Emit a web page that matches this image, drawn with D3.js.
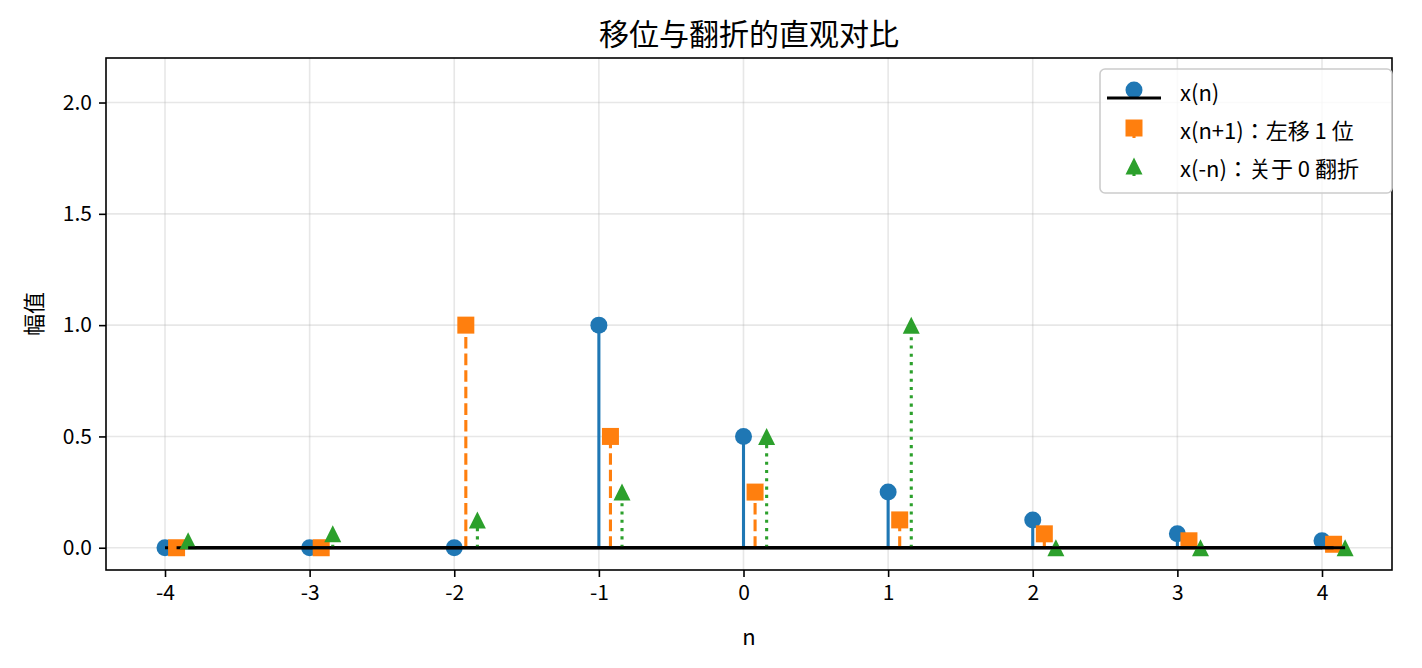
<!DOCTYPE html>
<html>
<head>
<meta charset="utf-8">
<script src="https://cdn.jsdelivr.net/npm/d3@7"></script>
<style>
  body { margin: 0; background: #fff; }
  svg text { font-family: "Noto Sans CJK JP", "Noto Sans CJK SC", sans-serif; fill: #000; }
</style>
</head>
<body>
<svg id="chart" width="1422" height="668"></svg>
<script>
// sample index n and the three sequences
const nValues = [-4, -3, -2, -1, 0, 1, 2, 3, 4];
const xOrig = [0, 0, 0, 1, 0.5, 0.25, 0.125, 0.0625, 0.03125];
const xShift = [0, 0, 1, 0.5, 0.25, 0.125, 0.0625, 0.03125, 0.015625];
const xFlip = [0.03125, 0.0625, 0.125, 0.25, 0.5, 1, 0, 0, 0];
const xTicks = [-4, -3, -2, -1, 0, 1, 2, 3, 4];
const yTicks = [0, 0.5, 1.0, 1.5, 2.0];
const seriesNames = ["x(n)", "x(n+1)：左移 1 位", "x(-n)：关于 0 翻折"];

const margin = { top: 58, right: 30, bottom: 98, left: 106 };
const W = 1422, H = 668;
const iw = W - margin.left - margin.right;
const ih = H - margin.top - margin.bottom;

const svg = d3.select("#chart");
const g = svg.append("g").attr("transform", `translate(${margin.left},${margin.top})`);

const x = d3.scaleLinear().domain([-4.408, 4.484]).range([0, iw]);
const y = d3.scaleLinear().domain([-0.1, 2.2]).range([ih, 0]);

// grid
g.append("g").selectAll("line").data(xTicks).join("line")
  .attr("x1", d => x(d)).attr("x2", d => x(d)).attr("y1", 0).attr("y2", ih)
  .attr("stroke", "#b0b0b0").attr("stroke-opacity", 0.3).attr("stroke-width", 1.6);
g.append("g").selectAll("line").data(yTicks).join("line")
  .attr("y1", d => y(d)).attr("y2", d => y(d)).attr("x1", 0).attr("x2", iw)
  .attr("stroke", "#b0b0b0").attr("stroke-opacity", 0.3).attr("stroke-width", 1.6);

const series = [
  { vals: xOrig, off: 0, color: "#1f77b4", dash: null, marker: "circle" },
  { vals: xShift, off: 0.08, color: "#ff7f0e", dash: "11.6,5", marker: "square" },
  { vals: xFlip, off: 0.16, color: "#2ca02c", dash: "3.1,5.2", marker: "triangle" }
];

const symbols = {
  circle: d3.symbol().type(d3.symbolCircle).size(Math.PI * 8.5 * 8.5),
  square: d3.symbol().type(d3.symbolSquare).size(17 * 17),
  triangle: () => "M0,-8.5L8.5,8.5L-8.5,8.5Z"
};

series.forEach((s, i) => {
  const pts = nValues.map((n, k) => ({ n: n + s.off, v: s.vals[k] }));
  g.append("g").selectAll("line").data(pts).join("line")
    .attr("x1", d => x(d.n)).attr("x2", d => x(d.n))
    .attr("y1", y(0)).attr("y2", d => y(d.v))
    .attr("stroke", s.color).attr("stroke-width", 3.1)
    .attr("stroke-dasharray", s.dash);
  g.append("g").selectAll("path").data(pts).join("path")
    .attr("transform", d => `translate(${x(d.n)},${y(d.v)})`)
    .attr("d", symbols[s.marker]())
    .attr("fill", s.color);
  // baseline
  g.append("line")
    .attr("x1", x(d3.min(pts, d => d.n))).attr("x2", x(d3.max(pts, d => d.n)))
    .attr("y1", y(0)).attr("y2", y(0))
    .attr("stroke", "#000").attr("stroke-width", 3);
});

// axes
const xAxis = g.append("g").attr("transform", `translate(0,${ih})`)
  .call(d3.axisBottom(x).tickValues(xTicks).tickFormat(d => String(d)).tickSize(7).tickPadding(8));
const yAxis = g.append("g")
  .call(d3.axisLeft(y).tickValues(yTicks).tickFormat(d3.format(".1f")).tickSize(7).tickPadding(7));
[xAxis, yAxis].forEach(a => {
  a.select(".domain").remove();
  a.selectAll("line").attr("stroke", "#000").attr("stroke-width", 1.6);
  a.selectAll("text").attr("font-size", 21).style("font-family", '"Noto Sans CJK JP", sans-serif');
});

g.append("rect").attr("width", iw).attr("height", ih)
  .attr("fill", "none").attr("stroke", "#000").attr("stroke-width", 1.6);

// labels
svg.append("text").attr("x", margin.left + iw / 2).attr("y", 32)
  .attr("text-anchor", "middle").attr("dominant-baseline", "central")
  .attr("font-size", 30).text("移位与翻折的直观对比");
svg.append("text").attr("x", margin.left + iw / 2).attr("y", 635)
  .attr("text-anchor", "middle").attr("dominant-baseline", "central")
  .attr("font-size", 22).text("n");
svg.append("text").attr("transform", `translate(32,${margin.top + ih / 2}) rotate(-90)`)
  .attr("text-anchor", "middle").attr("dominant-baseline", "central")
  .attr("font-size", 22).text("幅值");

// legend
const lg = svg.append("g").attr("transform", "translate(1100,69)");
lg.append("rect").attr("width", 292).attr("height", 124).attr("rx", 5)
  .attr("fill", "#fff").attr("fill-opacity", 0.8)
  .attr("stroke", "#cccccc").attr("stroke-width", 1.6);
const rowY = [21, 59, 97];
series.forEach((s, i) => {
  const hx = 34, hy = rowY[i];
  if (i === 0) {
    lg.append("line").attr("x1", hx).attr("x2", hx).attr("y1", hy + 8).attr("y2", hy)
      .attr("stroke", s.color).attr("stroke-width", 3.1);
    lg.append("path").attr("transform", `translate(${hx},${hy})`).attr("d", symbols[s.marker]()).attr("fill", s.color);
    lg.append("line").attr("x1", 7).attr("x2", 61).attr("y1", hy + 8).attr("y2", hy + 8)
      .attr("stroke", "#000").attr("stroke-width", 3);
  } else {
    lg.append("line").attr("x1", hx).attr("x2", hx).attr("y1", hy + 10).attr("y2", hy)
      .attr("stroke", s.color).attr("stroke-width", 3.1);
    lg.append("path").attr("transform", `translate(${hx},${hy})`).attr("d", symbols[s.marker]()).attr("fill", s.color);
  }
  lg.append("text").attr("x", 80).attr("y", hy + 1).attr("dominant-baseline", "central")
    .attr("font-size", 22).text(seriesNames[i]);
});
</script>
</body>
</html>
